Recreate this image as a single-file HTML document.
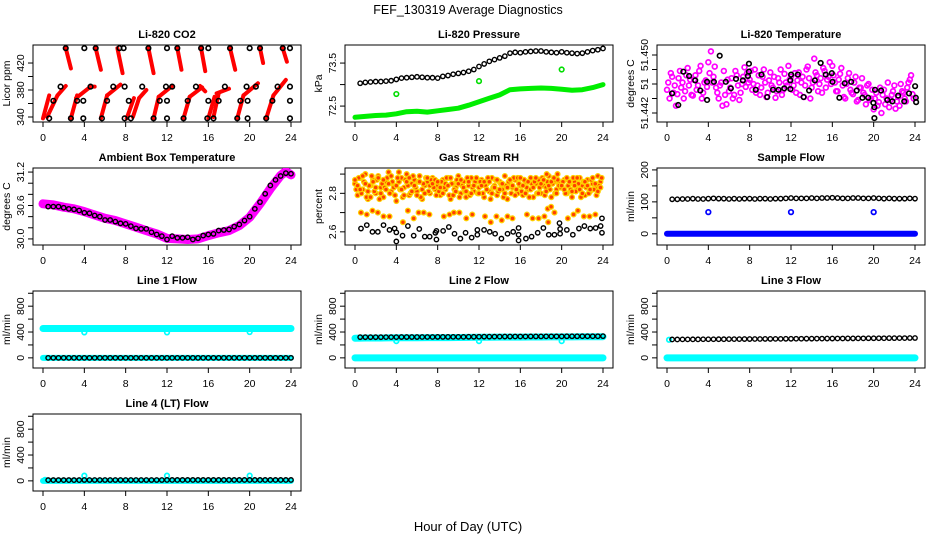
<!DOCTYPE html>
<html><head><meta charset="utf-8"><style>
html,body{margin:0;padding:0;background:#fff}
svg{display:block;font-family:"Liberation Sans",sans-serif}
</style></head><body>
<svg id="chart" width="936" height="540" viewBox="0 0 936 540" xmlns="http://www.w3.org/2000/svg">
<text x="468" y="14" text-anchor="middle" font-size="12.5">FEF_130319  Average Diagnostics</text>
<text x="468" y="531" text-anchor="middle" font-size="13">Hour of Day (UTC)</text>
</svg>
<script>
const hx=[0.5,1,1.5,2,2.5,3,3.5,4,4.5,5,5.5,6,6.5,7,7.5,8,8.5,9,9.5,10,10.5,11,11.5,12,12.5,13,13.5,14,14.5,15,15.5,16,16.5,17,17.5,18,18.5,19,19.5,20,20.5,21,21.5,22,22.5,23,23.5,24];
const hr=[0,1,2,3,4,5,6,7,8,9,10,11,12,13,14,15,16,17,18,19,20,21,22,23,24];
const xTicks=[0,4,8,12,16,20,24];
// CO2
const co2Streaks=[[0.0,338,0.6,372],[0.4,340,1.4,372],[1.4,372,2.2,386],[2.7,338,3.3,372],[3.2,368,4.6,385],[4.5,385,5.0,385],[5.6,338,6.2,372],[6.2,372,7.5,388],[8.1,338,8.8,368],[8.7,340,9.3,368],[9.3,368,10.0,380],[10.7,338,11.2,370],[11.2,370,12.5,386],[13.6,338,14.2,370],[14.2,370,15.4,384],[15.2,386,15.7,378],[16.0,338,16.6,370],[16.5,340,17.0,375],[16.8,375,18.0,382],[18.8,338,19.4,372],[19.4,372,20.8,390],[21.6,338,22.3,372],[22.3,372,23.5,395],[2.2,442,2.7,412],[5.1,442,5.6,410],[7.2,442,7.7,405],[10.2,442,10.7,405],[13.0,442,13.4,410],[15.3,442,15.7,408],[18.1,442,18.6,410],[21.0,442,21.3,420],[23.2,442,23.6,422]];
const co2BlackX=[2.2,4.0,5.1,7.4,7.8,10.2,12.0,13.0,15.3,16.0,18.1,20.0,21.0,23.2,23.9,1.7,4.6,6.8,7.9,9.6,11.9,12.5,14.8,17.6,19.7,20.6,22.7,23.9,1.0,3.3,3.9,6.2,8.3,11.3,12.0,14.0,16.0,17.0,19.1,19.8,22.2,23.9,0.6,2.7,3.9,5.7,7.9,8.5,10.7,12.0,13.6,15.9,16.5,18.8,19.8,21.6,23.9];
const co2BlackY=[442,442,442,442,442,442,442,442,442,442,442,442,442,442,442,385,385,385,385,385,385,385,385,385,385,385,385,385,364,364,364,364,364,364,364,364,364,364,364,364,364,364,338,338,338,338,338,338,338,338,338,338,338,338,338,338,338];
// Pressure
const presBlack=[73.03,73.05,73.06,73.07,73.07,73.08,73.09,73.12,73.15,73.16,73.17,73.18,73.17,73.16,73.16,73.15,73.19,73.21,73.24,73.26,73.28,73.31,73.35,73.42,73.48,73.54,73.58,73.62,73.66,73.73,73.75,73.74,73.76,73.77,73.78,73.78,73.76,73.75,73.74,73.76,73.74,73.73,73.72,73.73,73.76,73.79,73.81,73.84];
const presGreen=[72.24,72.26,72.28,72.29,72.32,72.37,72.38,72.36,72.39,72.42,72.45,72.52,72.6,72.68,72.76,72.88,72.9,72.91,72.92,72.91,72.89,72.87,72.88,72.93,73.0];
const presOutX=[4,12,20];
const presOutY=[72.78,73.08,73.35];
// Li-820 temperature
const tempBlackX=[0.49,1.09,1.58,2.14,2.73,3.22,3.88,3.88,4.54,5.10,5.69,6.18,6.68,7.34,7.83,7.93,7.93,8.59,9.14,9.70,10.26,10.79,11.35,11.94,11.94,12.01,12.66,13.22,13.75,14.31,14.87,15.36,15.95,16.02,16.68,17.20,17.83,18.36,18.91,19.47,19.97,20.07,20.13,20.07,20.72,21.32,21.81,22.37,22.96,23.42,24.01,24.08,24.11];
const tempBlackY=[51.4447,51.4431,51.4477,51.4471,51.4465,51.4451,51.4463,51.4438,51.4463,51.4499,51.4463,51.4454,51.4467,51.4465,51.4471,51.4477,51.4488,51.4452,51.4473,51.4442,51.4452,51.4452,51.4454,51.4465,51.4453,51.4473,51.4473,51.4442,51.4451,51.4465,51.4489,51.4473,51.4475,51.4463,51.4441,51.4461,51.4463,51.4451,51.4441,51.4441,51.4434,51.4428,51.4452,51.4413,51.4451,51.4438,51.4436,51.4444,51.4436,51.4447,51.4457,51.4441,51.4435];
const tempMagA=[51.4452,51.4440,51.4470,51.4458,51.4446,51.4478,51.4462,51.4450,51.4482,51.4466,51.4444,51.4472,51.4458,51.4485,51.4448,51.4465,51.4490,51.4505,51.4470,51.4455,51.4440,51.4462,51.4478,51.4432,51.4450,51.4468,51.4445,51.4472,51.4438,51.4460,51.4483,51.4475,51.4466,51.4452,51.4480,51.4458,51.4445,51.4470,51.4462,51.4448,51.4476,51.4455,51.4441,51.4468,51.4480,51.4452,51.4462,51.4485,51.4470,51.4458,51.4448,51.4476,51.4462,51.4442,51.4480,51.4468,51.4455,51.4495,51.4472,51.4460,51.4448,51.4478,51.4466,51.4490,51.4485,51.4462,51.4450,51.4474,51.4458,51.4440,51.4468,51.4452,51.4446,51.4470,51.4438,51.4455,51.4448,51.4432,51.4460,51.4440,51.4425,51.4448,51.4435,51.4420,51.4452,51.4440,51.4428,51.4445,51.4458,51.4436,51.4430,51.4450,51.4440,51.4455,51.4466,51.4446];
const tempMagB=[51.4462,51.4475,51.4448,51.4430,51.4468,51.4455,51.4440,51.4472,51.4458,51.4445,51.4466,51.4452,51.4478,51.4440,51.4462,51.4456,51.4475,51.4462,51.4484,51.4448,51.4458,51.4430,51.4445,51.4466,51.4455,51.4440,51.4478,51.4458,51.4448,51.4470,51.4456,51.4462,51.4478,51.4460,51.4448,51.4472,51.4455,51.4480,51.4442,51.4465,51.4458,51.4470,51.4450,51.4462,51.4445,51.4474,51.4458,51.4466,51.4452,51.4475,51.4465,51.4445,51.4470,51.4458,51.4484,51.4440,51.4462,51.4476,51.4450,51.4468,51.4482,51.4455,51.4470,51.4460,51.4472,51.4450,51.4466,51.4482,51.4442,51.4460,51.4475,51.4448,51.4462,51.4436,51.4455,51.4468,51.4445,51.4458,51.4438,51.4452,51.4440,51.4430,51.4455,51.4445,51.4432,51.4462,51.4438,51.4450,51.4426,51.4442,51.4460,51.4448,51.4436,51.4462,51.4472,51.4440];
// Ambient
const ambBandX=[0,1,2,3,4,5,6,7,8,9,10,11,12,13,14,15,16,17,18,19,20,21,22,23,23.5,24];
const ambBand=[30.63,30.61,30.57,30.54,30.49,30.43,30.37,30.33,30.27,30.21,30.15,30.09,30.01,30.0,29.99,30.0,30.06,30.11,30.15,30.24,30.39,30.63,30.9,31.14,31.21,31.15];
const ambBlack=[30.58,30.58,30.58,30.56,30.54,30.53,30.51,30.47,30.46,30.42,30.40,30.34,30.34,30.31,30.28,30.27,30.23,30.19,30.18,30.18,30.12,30.08,30.05,29.99,30.05,30.02,30.02,30.03,29.99,30.01,30.06,30.08,30.09,30.15,30.16,30.17,30.22,30.26,30.33,30.40,30.54,30.66,30.81,30.96,31.06,31.13,31.18,31.17];
// RH
const rhA=[2.85,2.79,2.88,2.82,2.90,2.77,2.84,2.87,2.80,2.89,2.83,2.78,2.86,2.91,2.81,2.84,2.76,2.86,2.88,2.83,2.90,2.79,2.85,2.87,2.81,2.89,2.77,2.84,2.86,2.80,2.88,2.82,2.84,2.79,2.87,2.82,2.88,2.77,2.85,2.83,2.89,2.80,2.86,2.78,2.84,2.88,2.81,2.86,2.83,2.87,2.78,2.85,2.81,2.88,2.84,2.79,2.86,2.82,2.89,2.77,2.85,2.83,2.87,2.80,2.84,2.79,2.86,2.82,2.88,2.78,2.85,2.87,2.80,2.84,2.83,2.89,2.78,2.86,2.82,2.85,2.83,2.87,2.80,2.85,2.78,2.86,2.82,2.88,2.84,2.79,2.87,2.81,2.85,2.83,2.89,2.86];
const rhB=[2.82,2.88,2.80,2.86,2.78,2.84,2.89,2.81,2.87,2.77,2.85,2.83,2.88,2.80,2.86,2.79,2.88,2.82,2.78,2.87,2.84,2.80,2.89,2.83,2.86,2.78,2.85,2.88,2.81,2.87,2.83,2.79,2.81,2.86,2.83,2.88,2.79,2.85,2.82,2.87,2.78,2.84,2.81,2.88,2.79,2.83,2.86,2.80,2.86,2.80,2.84,2.88,2.77,2.83,2.87,2.81,2.85,2.78,2.84,2.86,2.80,2.88,2.82,2.85,2.81,2.87,2.83,2.78,2.85,2.86,2.80,2.83,2.88,2.79,2.86,2.82,2.85,2.80,2.87,2.83,2.86,2.80,2.84,2.82,2.88,2.81,2.85,2.78,2.86,2.83,2.80,2.87,2.82,2.79,2.84,2.88];
const rhC=[2.87,2.84,2.82,2.89,2.85,2.81,2.78,2.86,2.83,2.88,2.80,2.87,2.82,2.85,2.89,2.83,2.84,2.91,2.82,2.79,2.86,2.88,2.81,2.84,2.79,2.86,2.82,2.80,2.88,2.84,2.85,2.87,2.86,2.83,2.80,2.85,2.84,2.88,2.79,2.81,2.85,2.87,2.83,2.81,2.86,2.80,2.84,2.88,2.80,2.84,2.86,2.82,2.86,2.80,2.83,2.87,2.82,2.85,2.80,2.83,2.87,2.84,2.79,2.88,2.88,2.84,2.80,2.86,2.82,2.83,2.88,2.80,2.85,2.87,2.81,2.84,2.86,2.88,2.80,2.84,2.84,2.82,2.88,2.86,2.81,2.84,2.88,2.82,2.80,2.86,2.84,2.82,2.88,2.85,2.81,2.83];
const rhLowX=[0.58,1.14,1.69,2.21,2.76,3.34,4.64,5.12,5.68,6.16,6.65,7.2,8.6,9.15,9.57,10.1,10.77,11.35,12.58,13.14,13.69,14.2,14.76,15.24,16.64,17.19,17.77,18.33,18.7,19.3,20.6,21.15,21.57,22.15,22.7,23.26,18.65,18.98,19.6,18.55];
const rhLowY=[2.70,2.69,2.71,2.70,2.68,2.68,2.65,2.71,2.67,2.70,2.70,2.69,2.68,2.69,2.70,2.70,2.67,2.69,2.68,2.65,2.68,2.66,2.68,2.67,2.69,2.67,2.67,2.68,2.65,2.70,2.67,2.69,2.71,2.68,2.68,2.69,2.72,2.73,2.90,2.90];
const rhBlackX=[0.58,1.14,1.69,2.21,2.76,3.34,3.83,4.0,4.0,4.6,5.12,5.68,6.22,6.75,7.23,7.78,7.88,7.88,8.53,9.08,9.63,10.2,10.7,11.29,11.84,11.84,12.49,13.04,13.56,14.17,14.76,15.31,15.83,15.83,15.83,16.54,17.09,17.68,18.23,18.75,19.3,19.79,19.85,19.85,20.5,21.08,21.67,22.2,22.77,23.29,23.77,23.9,23.9];
const rhBlackY=[2.617,2.635,2.60,2.60,2.635,2.61,2.617,2.597,2.55,2.58,2.63,2.58,2.615,2.575,2.575,2.595,2.605,2.56,2.605,2.625,2.59,2.565,2.595,2.57,2.61,2.585,2.61,2.60,2.59,2.565,2.59,2.60,2.62,2.585,2.555,2.565,2.575,2.595,2.62,2.585,2.585,2.645,2.615,2.59,2.61,2.585,2.617,2.63,2.617,2.62,2.63,2.67,2.595];
// Sample flow
const sfBlack=[108,108,109,109,110,109,109,110,111,110,110,109,110,109,110,110,109,110,110,109,110,110,111,112,111,111,111,112,111,112,112,113,112,111,111,112,112,111,111,112,111,110,111,110,110,110,111,110];
const sfBlue=[0,0,0,0,0,0,0,0,0,0,0,0,0,0,0,0,0,0,0,0,0,0,0,0,0];
const sfOutX=[4,12,20];
const sfOutY=[68,68,68];
// Line flows
const l1Black=[0,0,0,0,0,0,0,0,0,0,0,0,0,0,0,0,0,0,0,0,0,0,0,0,0,0,0,0,0,0,0,0,0,0,0,0,0,0,0,0,0,0,0,0,0,0,0,0];
const l1CyanHi=[455,455,455,455,455,455,455,455,455,455,455,455,455,455,455,455,455,455,455,455,455,455,455,455,455];
const l1CyanLo=[0,0,0,0,0,0,0,0,0,0,0,0,0,0,0,0,0,0,0,0,0,0,0,0,0];
const l1OutX=[4,12,20];
const l1OutY=[395,395,400];
const l2Black=[320,320,320,320,320,321,321,321,322,322,322,322,323,323,323,324,324,324,325,325,325,326,326,327,328,328,329,329,330,330,331,331,331,332,332,332,333,333,333,333,334,334,334,335,335,335,335,336];
const l2CyanHi=[305,307,308,309,310,311,312,313,313,314,315,316,318,320,321,322,322,323,323,324,325,325,326,326,327];
const l2CyanLo=[0,0,0,0,0,0,0,0,0,0,0,0,0,0,0,0,0,0,0,0,0,0,0,0,0];
const l2OutX=[4,12,20];
const l2OutY=[260,260,260];
const l3Black=[285,285,286,286,287,287,288,288,288,289,289,290,290,290,291,291,292,292,293,293,294,294,295,295,296,296,297,297,298,298,299,299,300,300,301,301,302,302,303,303,304,304,305,305,306,306,307,307];
const l3CyanLo=[0,0,0,0,0,0,0,0,0,0,0,0,0,0,0,0,0,0,0,0,0,0,0,0,0];
const l3OutX=[0.2,4,12,20];
const l3OutY=[280,0,0,0];
const l4Black=[12,12,12,12,12,12,12,13,13,13,13,13,13,13,13,13,13,13,13,13,13,13,13,14,14,14,14,14,14,14,14,14,14,14,14,14,14,14,14,14,14,14,14,14,14,14,14,14];
const l4CyanLo=[0,0,0,0,0,0,0,0,0,0,0,0,0,0,0,0,0,0,0,0,0,0,0,0,0];
const l4OutX=[0.2,4,12,20];
const l4OutY=[15,80,80,80];

const svg=document.getElementById('chart');
const NS='http://www.w3.org/2000/svg';
function mk(tag,attrs,parent){const e=document.createElementNS(NS,tag);for(const k in attrs)e.setAttribute(k,attrs[k]);(parent||svg).appendChild(e);return e;}
function seq(n,start,step){const a=[];for(let i=0;i<n;i++)a.push(start+i*step);return a;}
const qx=seq(96,0,0.25), qx2=seq(96,0.12,0.25);

function panel(col,row,title,ylab,ylim,ticks,labels,name){
  const L=33+312*col,R=301+312*col,T=45+123*row,B=122+123*row;
  const g=mk('g',{});
  
  
  const sx=v=>L+10+v*(R-L-20)/24;
  const sy=v=>B-(v-ylim[0])/(ylim[1]-ylim[0])*(B-T);
  const t=mk('text',{x:(L+R)/2,y:T-7,'text-anchor':'middle','font-size':11,'font-weight':'bold'},g);t.textContent=title;
  
  
  const box=mk('rect',{x:L,y:T,width:R-L,height:B-T,fill:'none',stroke:'#000','stroke-width':1},g);
  
  
  const xa=mk('g',{},g);
  
  
  xTicks.forEach(v=>{mk('line',{x1:sx(v),x2:sx(v),y1:B,y2:B+5,stroke:'#000'},xa);const tt=mk('text',{x:sx(v),y:B+19,'text-anchor':'middle','font-size':10.5},xa);tt.textContent=v;});
  const ya=mk('g',{},g);
  
  
  ticks.forEach((v,i)=>{const y=sy(v);mk('line',{x1:L-5,x2:L,y1:y,y2:y,stroke:'#000'},ya);if(labels[i]){const tt=mk('text',{x:L-9,y:y,'text-anchor':'middle','font-size':10.5,transform:`rotate(-90 ${L-9} ${y})`},ya);tt.textContent=labels[i];}});
  const yl=mk('text',{x:L-23,y:(T+B)/2,'text-anchor':'middle','font-size':10.5,transform:`rotate(-90 ${L-23} ${(T+B)/2})`},g);yl.textContent=ylab;
  
  
  const clipId='c'+col+row;
  const cp=mk('clipPath',{id:clipId},g);mk('rect',{x:L,y:T,width:R-L,height:B-T},cp);
  const plot=mk('g',{'clip-path':`url(#${clipId})`},g);
  return {sx,sy,plot,name};
}
function pts(p,xs,ys,color,sname,r,fill,sw){
  const g=mk('g',{},p.plot);
  
  
  for(let i=0;i<ys.length;i++){mk('circle',{cx:p.sx(xs[i]),cy:p.sy(ys[i]),r:r||2.2,fill:fill||'none',stroke:color,'stroke-width':sw||1.5},g);}
}
function band(p,xs,ys,color,w,sname){
  const d=ys.map((v,i)=>(i?'L':'M')+p.sx(xs[i]).toFixed(1)+' '+p.sy(v).toFixed(1)).join(' ');
  const e=mk('path',{d:d,fill:'none',stroke:color,'stroke-width':w,'stroke-linecap':'round','stroke-linejoin':'round'},p.plot);
  
  
}

// CO2
let p=panel(0,0,'Li-820 CO2','Licor ppm',[332.6,446.7],[340,360,380,400,420],['340','','380','','420'],'co2');
const sg=mk('g',{},p.plot);


co2Streaks.forEach(s=>mk('line',{x1:p.sx(s[0]),y1:p.sy(s[1]),x2:p.sx(s[2]),y2:p.sy(s[3]),stroke:'#ff0000','stroke-width':4,'stroke-linecap':'round'},sg));
pts(p,co2BlackX,co2BlackY,'#000','black-series',2.3,'none',1.6);

// Pressure
p=panel(1,0,'Li-820 Pressure','kPa',[72.13,73.92],[72.5,73.0,73.5],['72.5','','73.5'],'pressure');
band(p,hr,presGreen,'#00ee00',5,'green-series');
pts(p,presOutX,presOutY,'#00dd00','green-outliers',2.3,'none',1.6);
pts(p,hx,presBlack,'#000','black-series',2.2,'none',1.4);

// Temperature
p=panel(2,0,'Li-820 Temperature','degrees C',[51.44076,51.45138],[51.442,51.444,51.446,51.448,51.450],['51.442','','51','','51.450'],'temperature');
pts(p,qx,tempMagA,'#ff00ff','magenta-series-a',2.4,'none',1.7);
pts(p,qx2,tempMagB,'#ff00ff','magenta-series-b',2.4,'none',1.7);
pts(p,tempBlackX,tempBlackY,'#000','black-series',2.3,'none',1.6);

// Ambient
p=panel(0,1,'Ambient Box Temperature','degrees C',[29.891,31.273],[30.0,30.2,30.4,30.6,30.8,31.0,31.2],['30.0','','','30.6','','','31.2'],'ambient');
band(p,ambBandX,ambBand,'#ff00ff',9,'magenta-series');
pts(p,hx,ambBlack,'#000','black-series',2.2,'none',1.4);

// RH
p=panel(1,1,'Gas Stream RH','percent',[2.5316,2.9316],[2.6,2.7,2.8,2.9],['2.6','','2.8',''],'rh');
pts(p,qx,rhA,'#ffd000','orange-series-a',2.4,'#ff4000',1.3);
pts(p,qx2,rhB,'#ffd000','orange-series-b',2.4,'#ff4000',1.3);
pts(p,qx,rhC,'#ffd000','orange-series-c',2.4,'#ff4000',1.3);
pts(p,rhLowX,rhLowY,'#ffd000','orange-low-series',2.4,'#ff4000',1.3);
pts(p,rhBlackX,rhBlackY,'#000','black-series',2.2,'none',1.4);

// Sample flow
p=panel(2,1,'Sample Flow','ml/min',[-35,206],[0,50,100,150,200],['0','','100','','200'],'sample-flow');
band(p,hr,sfBlue,'#0000ff',6,'blue-series');
pts(p,sfOutX,sfOutY,'#0000ff','blue-outliers',2.3,'none',1.7);
pts(p,hx,sfBlack,'#000','black-series',2.2,'none',1.4);

const fT=[0,200,400,600,800,1000],fL=['0','','400','','800',''],fY=[-157,1035];
p=panel(0,2,'Line 1 Flow','ml/min',fY,fT,fL,'line1-flow');
band(p,hr,l1CyanHi,'#00ffff',7,'cyan-high-series');
band(p,hr,l1CyanLo,'#00ffff',6,'cyan-low-series');
pts(p,l1OutX,l1OutY,'#00ffff','cyan-outliers',2.3,'none',1.7);
pts(p,hx,l1Black,'#000','black-series',2.2,'none',1.4);

p=panel(1,2,'Line 2 Flow','ml/min',fY,fT,fL,'line2-flow');
band(p,hr,l2CyanHi,'#00ffff',7,'cyan-high-series');
band(p,hr,l2CyanLo,'#00ffff',7,'cyan-low-series');
pts(p,l2OutX,l2OutY,'#00ffff','cyan-outliers',2.3,'none',1.7);
pts(p,hx,l2Black,'#000','black-series',2.2,'none',1.4);

p=panel(2,2,'Line 3 Flow','ml/min',fY,fT,fL,'line3-flow');
band(p,hr,l3CyanLo,'#00ffff',7,'cyan-low-series');
pts(p,l3OutX,l3OutY,'#00ffff','cyan-outliers',2.3,'none',1.7);
pts(p,hx,l3Black,'#000','black-series',2.2,'none',1.4);

p=panel(0,3,'Line 4 (LT) Flow','ml/min',fY,fT,fL,'line4-flow');
band(p,hr,l4CyanLo,'#00ffff',6,'cyan-low-series');
pts(p,l4OutX,l4OutY,'#00ffff','cyan-outliers',2.3,'none',1.7);
pts(p,hx,l4Black,'#000','black-series',2.2,'none',1.4);
</script>
</body></html>
